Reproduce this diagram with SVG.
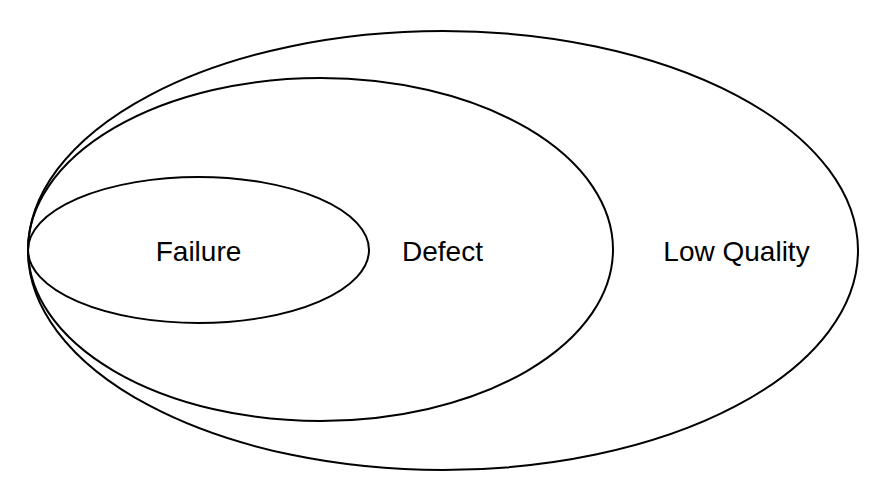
<svg xmlns="http://www.w3.org/2000/svg" width="890" height="496" viewBox="0 0 890 496">
<style>
.e{fill:none;stroke:#000;stroke-width:2}
.t{font-family:"Liberation Sans",Arial,sans-serif;font-size:28px;fill:#000;text-anchor:middle}
</style>
<rect width="890" height="496" fill="#fff"/>
<g id="low-quality"><ellipse class="e" cx="443" cy="250.5" rx="415" ry="219.5"/><text class="t" x="736.5" y="261">Low Quality</text></g>
<g id="defect"><ellipse class="e" cx="320.5" cy="249.5" rx="292.5" ry="171.5"/><text class="t" x="442.5" y="261">Defect</text></g>
<g id="failure"><ellipse class="e" cx="198.5" cy="250" rx="170.5" ry="73"/><text class="t" x="198.5" y="261">Failure</text></g>
<g id="connectors"/>
</svg>
